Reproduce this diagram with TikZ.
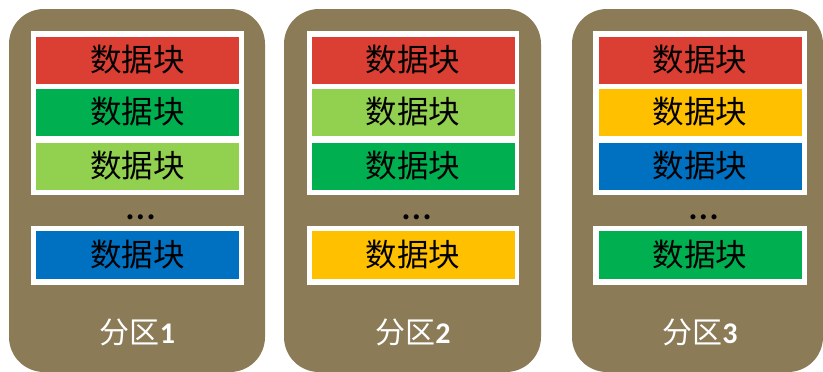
\documentclass[tikz,border=0pt]{standalone}
\usepackage{fontspec}
\newfontfamily\cjk{Noto Sans CJK SC}
\newfontfamily\carl{Carlito}
\definecolor{part}{RGB}{139,123,87}
\definecolor{cred}{RGB}{219,63,52}
\definecolor{cgreen}{RGB}{0,176,80}
\definecolor{clgreen}{RGB}{146,208,80}
\definecolor{cblue}{RGB}{0,112,192}
\definecolor{cyellow}{RGB}{255,192,0}
\tikzset{
  partbox/.style={fill=part, draw=none, rounded corners=35pt},
  panel/.style={fill=white, draw=none},
  blk/.style={draw=none, minimum width=203pt, minimum height=47pt, inner sep=0pt,
    font=\cjk\fontsize{31.5}{31.5}\selectfont, text=black},
  dots/.style={font=\carl\fontsize{42}{42}\selectfont, text=black, anchor=base, inner sep=0pt},
  plabel/.style={text=white, inner sep=0pt, font=\fontsize{30}{30}\selectfont}
}
\begin{document}
\begin{tikzpicture}[x=1pt,y=-1pt]
\useasboundingbox (0,0) rectangle (823,372);
% partition 1
\fill[partbox] (9,9) rectangle (265,372);
\fill[panel] (31,31) rectangle (244,195);
\fill[panel] (31,226) rectangle (244,285);
\node[blk, fill=cred] (a1) at (137.5,60) {数据块};
\node[blk, fill=cgreen] (a2) at (137.5,112) {数据块};
\node[blk, fill=clgreen] (a3) at (137.5,166) {数据块};
\node[dots] (ad) at (141,219) {…};
\node[blk, fill=cblue, minimum height=48pt] (a4) at (137.5,255) {数据块};
\node[plabel] (al) at (137.5,332) {{\cjk 分区}{\carl\bfseries 1}};
% partition 2
\fill[partbox] (284,9) rectangle (541,372);
\fill[panel] (307,31) rectangle (519,195);
\fill[panel] (307,226) rectangle (519,285);
\node[blk, fill=cred] (b1) at (413,60) {数据块};
\node[blk, fill=clgreen] (b2) at (413,112) {数据块};
\node[blk, fill=cgreen] (b3) at (413,166) {数据块};
\node[dots] (bd) at (417,219) {…};
\node[blk, fill=cyellow, minimum height=48pt] (b4) at (413,255) {数据块};
\node[plabel] (bl) at (413,332) {{\cjk 分区}{\carl\bfseries 2}};
% partition 3
\fill[partbox] (572,9) rectangle (823,372);
\fill[panel] (593,31) rectangle (807,195);
\fill[panel] (593,226) rectangle (807,285);
\node[blk, fill=cred] (c1) at (700,60) {数据块};
\node[blk, fill=cyellow] (c2) at (700,112) {数据块};
\node[blk, fill=cblue] (c3) at (700,166) {数据块};
\node[dots] (cd) at (704,219) {…};
\node[blk, fill=cgreen, minimum height=48pt] (c4) at (700,255) {数据块};
\node[plabel] (cl) at (700,332) {{\cjk 分区}{\carl\bfseries 3}};
\end{tikzpicture}
\end{document}
